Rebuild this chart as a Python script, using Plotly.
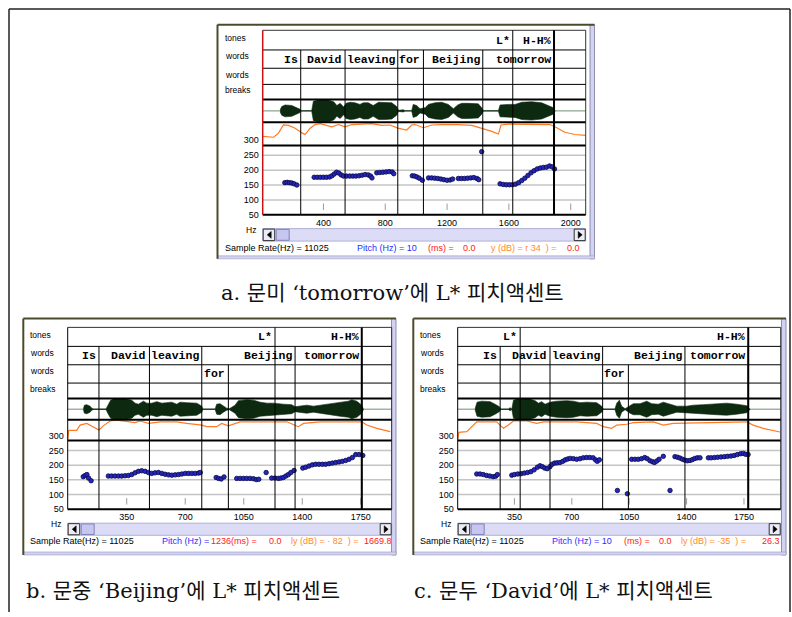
import plotly.graph_objects as go

FIG_W, FIG_H = 792, 617


def X(p):
    return p / FIG_W


def Y(p):
    return 1 - p / FIG_H


# ---------------- data: panel a ('tomorrow' L*) ----------------
A_PITCH_T = [150, 165, 180, 195, 210, 228,
             340, 360, 380, 400, 420, 440, 455, 470, 485, 500, 515, 530, 550, 570, 590, 610, 630, 650, 670, 690, 705, 714,
             745, 765, 785, 805, 825, 845, 855,
             975, 990, 1005, 1020, 1040,
             1080, 1100, 1120, 1140, 1160, 1180, 1200, 1220, 1236,
             1273, 1293, 1313, 1333, 1353, 1373, 1393, 1405,
             1424,
             1543, 1563, 1583, 1603, 1623, 1643, 1663, 1683, 1703, 1723, 1743, 1763, 1783, 1803, 1823, 1843, 1863, 1880, 1895]
A_PITCH_HZ = [158, 159, 158, 157, 154, 150,
              176, 176, 176, 176, 176, 177, 181, 187, 193, 190, 184, 180, 180, 180, 180, 180, 181, 183, 185, 184, 180, 174,
              191, 192, 193, 194, 195, 194, 188,
              181, 180, 177, 173, 166,
              174, 174, 173, 172, 170, 168, 166, 167, 170,
              172, 172, 172, 173, 174, 175, 172, 168,
              262,
              154, 152, 151, 151, 151, 153, 158, 165, 173, 182, 191, 198, 204, 207, 209, 210, 214, 211, 204]
A_WAVE_T = [120, 130, 152, 195, 217, 249, 255, 324, 335, 367, 432, 466, 487, 508, 531, 546,
            574, 604, 636, 658, 690, 722, 757, 799, 842, 874, 885, 917, 928, 971, 981, 1003, 1025, 1058, 1079, 1122,
            1165, 1208, 1241, 1269, 1295, 1338, 1402, 1424, 1435, 1532, 1543, 1597, 1640, 1683, 1747, 1812, 1855, 1887, 1898]
A_WAVE_AMP = [0.1, 0.4, 0.55, 0.5, 0.35, 0.15, 0.02, 0.02, 0.9, 1.0, 1.0, 0.85, 0.5, 0.7, 0.35, 0.7,
              0.8, 0.75, 0.6, 0.75, 0.75, 0.5, 0.8, 0.8, 0.75, 0.4, 0.05, 0.1, 0.02, 0.02, 0.6, 0.5, 0.2, 0.3, 0.6, 0.75,
              0.8, 0.6, 0.2, 0.55, 0.7, 0.7, 0.65, 0.3, 0.02, 0.02, 0.55, 0.6, 0.6, 0.8, 0.85, 0.75, 0.5, 0.3, 0.02]
A_INT_T = [8, 77, 109, 141, 174, 217, 264, 281, 314, 346, 378, 421, 454, 497, 540, 583, 712, 777, 831, 881,
           939, 971, 993, 1047, 1101, 1165, 1273, 1360, 1424, 1489, 1532, 1549, 1597, 1866, 1898, 1962, 2027, 2096]
A_INT_DB = [50, 48, 57, 75, 74, 68, 57, 54, 68, 76, 78, 74, 71, 76, 71, 76, 78, 74, 75, 68,
            64, 75, 76, 69, 75, 76, 76, 74, 68, 61, 55, 75, 77, 76, 71, 59, 54, 52]
A_TONE_T = [1625, 1892]
A_TONE_LAB = ["L*", "H-H%"]
A_WORD_T = [253, 540, 881, 1047, 1431, 1892]
A_WORD_LAB = ["Is", "David", "leaving", "for", "Beijing", "tomorrow"]
A_WORD2_T = []
A_WORD2_LAB = []
A_TIME_TICKS = [400, 800, 1200, 1600, 2000]

# ---------------- data: panel b ('Beijing' L*) ----------------
B_PITCH_T = [90, 102, 112, 122, 137,
             240, 260, 280, 300, 320, 340, 360, 380, 400, 420, 440, 460, 480, 500, 520, 540, 560, 580, 600, 620, 640,
             660, 680, 700, 720, 740, 760, 780, 790,
             885, 900, 915, 932,
             1008, 1028, 1048, 1068, 1088, 1108, 1125, 1140,
             1184,
             1217, 1237, 1257, 1272, 1287, 1302, 1317, 1332, 1351,
             1403, 1420, 1440, 1460, 1480, 1500, 1520, 1540, 1560, 1580, 1600, 1620, 1640, 1660, 1680, 1700, 1720, 1740, 1762]
B_PITCH_HZ = [161, 165, 168, 156, 147,
              163, 163, 163, 163, 163, 164, 165, 168, 174, 179, 181, 179, 175, 172, 174, 175, 172, 169, 167, 166, 167,
              168, 170, 172, 172, 172, 172, 173, 175,
              158, 155, 153, 160,
              155, 155, 155, 155, 155, 154, 151, 152,
              175,
              156, 156, 155, 156, 158, 163, 168, 175, 182,
              190, 193, 197, 201, 203, 203, 203, 203, 205, 207, 209, 211, 213, 216, 220, 226, 236, 236, 233]
B_WAVE_T = [91, 97, 111, 131, 141, 151, 226, 240, 254, 270, 350, 380, 400, 420, 450, 470, 500, 530, 560, 589,
            619, 649, 669, 709, 769, 799, 805, 879, 888, 908, 928, 948, 964, 998, 1018, 1068, 1108, 1148, 1188, 1227,
            1287, 1337, 1357, 1387, 1427, 1467, 1507, 1567, 1626, 1676, 1696, 1726, 1756, 1766]
B_WAVE_AMP = [0.05, 0.4, 0.45, 0.3, 0.1, 0.02, 0.02, 0.5, 0.9, 1.0, 1.0, 0.9, 0.6, 0.5, 0.8, 0.6, 0.6, 0.75, 0.6, 0.65,
              0.7, 0.5, 0.7, 0.65, 0.6, 0.3, 0.02, 0.02, 0.5, 0.55, 0.3, 0.1, 0.05, 0.4, 0.85, 0.95, 0.9, 0.7, 0.6, 0.6,
              0.5, 0.45, 0.25, 0.3, 0.4, 0.3, 0.4, 0.55, 0.7, 0.8, 0.95, 0.8, 0.4, 0.02]
B_INT_T = [-3, 3, 51, 71, 111, 151, 184, 210, 250, 290, 350, 400, 430, 480, 550, 649, 709, 799, 829, 888,
           918, 958, 1028, 1108, 1307, 1377, 1407, 1507, 1756, 1786, 1846, 1926]
B_INT_DB = [32, 55, 55, 68, 72, 64, 56, 66, 78, 80, 76, 74, 78, 72, 76, 76, 72, 68, 64, 64,
            72, 66, 76, 76, 76, 64, 72, 76, 76, 68, 60, 52]
B_TONE_T = [1237, 1756]
B_TONE_LAB = ["L*", "H-H%"]
B_WORD_T = [184, 486, 799, 1357, 1756]
B_WORD_LAB = ["Is", "David", "leaving", "Beijing", "tomorrow"]
B_WORD2_T = [958]
B_WORD2_LAB = ["for"]

# ---------------- data: panel c ('David' L*) ----------------
C_PITCH_T = [120, 140, 160, 180, 200, 220, 235, 246,
             334, 350, 370, 390, 410, 430, 450, 470, 490, 506, 520, 535, 550, 567, 580, 595, 610, 628, 645, 660, 675,
             690, 710, 730, 750, 770, 790, 810, 830, 845, 855, 868,
             978, 1039,
             1065, 1085, 1105, 1125, 1145, 1160, 1177, 1192, 1204, 1218, 1232,
             1258, 1299,
             1329, 1345, 1360, 1375, 1390, 1405, 1421, 1436, 1451, 1466, 1482,
             1533, 1550, 1570, 1590, 1610, 1630, 1650, 1670, 1690, 1710, 1730, 1746, 1760, 1775]
C_PITCH_HZ = [170, 170, 168, 165, 163, 161, 162, 168,
              166, 168, 170, 171, 173, 175, 178, 184, 193, 198, 195, 190, 188, 195, 203, 207, 208, 209, 213, 218, 221,
              223, 222, 220, 222, 225, 226, 226, 225, 218, 213, 218,
              114, 103,
              220, 220, 220, 222, 226, 222, 215, 212, 209, 214, 220,
              230, 114,
              229, 227, 224, 220, 217, 215, 216, 219, 223, 225, 225,
              225, 225, 226, 227, 228, 229, 230, 231, 233, 236, 239, 240, 237, 236]
C_WAVE_T = [110, 122, 151, 202, 232, 258, 266, 313, 323, 334, 344, 364, 445, 476, 496, 516, 537,
            567, 608, 669, 709, 750, 791, 852, 882, 892, 963, 974, 990, 1004, 1025, 1055, 1075, 1116, 1157, 1187,
            1228, 1258, 1299, 1340, 1400, 1441, 1502, 1583, 1644, 1705, 1766, 1782, 1786]
C_WAVE_AMP = [0.05, 0.7, 0.8, 0.75, 0.5, 0.25, 0.02, 0.02, 0.15, 0.02, 0.9, 1.0, 1.0, 0.85, 0.6, 0.75, 0.5,
              0.7, 0.8, 0.85, 0.8, 0.65, 0.7, 0.65, 0.3, 0.02, 0.02, 0.6, 0.9, 0.3, 0.05, 0.4, 0.55, 0.55, 0.8, 0.55,
              0.5, 0.7, 0.5, 0.3, 0.3, 0.4, 0.45, 0.55, 0.6, 0.5, 0.35, 0.1, 0.02]
C_INT_T = [4, 11, 59, 90, 120, 242, 283, 313, 344, 425, 486, 527, 730, 852, 892, 943, 974, 1035, 1075, 1197,
           1258, 1319, 1766, 1806, 1867, 1969]
C_INT_DB = [32, 50, 52, 64, 76, 76, 60, 68, 78, 78, 72, 76, 76, 72, 64, 60, 68, 70, 74, 76,
            68, 72, 76, 68, 60, 51]
C_TONE_T = [385, 1776]
C_TONE_LAB = ["L*", "H-H%"]
C_WORD_T = [263, 567, 888, 1390, 1776]
C_WORD_LAB = ["Is", "David", "leaving", "Beijing", "tomorrow"]
C_WORD2_T = [1045]
C_WORD2_LAB = ["for"]
BC_TIME_TICKS = [350, 700, 1050, 1400, 1750]

PITCH_TICKS = [50, 100, 150, 200, 250, 300]
PITCH_GRID = [100, 150, 200, 250]
TIER_NAMES = ["tones", "words", "words", "breaks"]

CAPTIONS = ["a. 문미 ‘tomorrow’에 L* 피치액센트",
            "b. 문중 ‘Beijing’에 L* 피치액센트",
            "c. 문두 ‘David’에 L* 피치액센트"]

BLUE, RED, ORANGE, BLACK = "#2b2bff", "#ff2020", "#ff8a2a", "#000000"
STATUS = [
    [("Sample Rate(Hz) = 11025", BLACK, 0), ("Pitch (Hz) = 10", BLUE, 131.7), ("(ms) =", RED, 202.4),
     ("0.0", RED, 237.7), ("y (dB) = r 34  ) =", ORANGE, 265.7), ("0.0", RED, 341.7)],
    [("Sample Rate(Hz) = 11025", BLACK, 0), ("Pitch (Hz) =", BLUE, 131.7), ("1236(ms) =", RED, 181),
     ("0.0", RED, 238.4), ("ly (dB) = · 82  ) =", ORANGE, 261), ("1669.8", RED, 334)],
    [("Sample Rate(Hz) = 11025", BLACK, 0), ("Pitch (Hz) = 10", BLUE, 131.7), ("(ms) =", RED, 203.4),
     ("0.0", RED, 238.4), ("ly (dB) = ·35  ) =", ORANGE, 261), ("26.3", RED, 341.7)],
]

# ---------------- panel geometry (pixels) ----------------
ROWS_A = (25.7, 45.7, 64.3, 80.7, 96.0, 119.3, 142.7, 213.3)
ROWS_BC = (327.7, 347.0, 365.7, 384.3, 400.0, 421.7, 442.7, 512.6)
panels = [
    dict(win=(217.5, 20.0, 594.5, 258.0), left=262.7, right=585.7, rows=ROWS_A, hz_px=0.303, xr=[7, 2097],
         ticks=A_TIME_TICKS, pitch=(A_PITCH_T, A_PITCH_HZ), wave=(A_WAVE_T, A_WAVE_AMP), inten=(A_INT_T, A_INT_DB),
         tones=(A_TONE_T, A_TONE_LAB), words=(A_WORD_T, A_WORD_LAB), words2=(A_WORD2_T, A_WORD2_LAB),
         label_x=223.3, label_y=(33.3, 52.3, 70.7, 86.0), scroll=(227.3, 240.0), status_y=246.7,
         red_edge=True, caption=(219, 293)),
    dict(win=(23.3, 318.7, 396.0, 559.0), left=67.7, right=391.7, rows=ROWS_BC, hz_px=0.299, xr=[-3, 1935],
         ticks=BC_TIME_TICKS, pitch=(B_PITCH_T, B_PITCH_HZ), wave=(B_WAVE_T, B_WAVE_AMP), inten=(B_INT_T, B_INT_DB),
         tones=(B_TONE_T, B_TONE_LAB), words=(B_WORD_T, B_WORD_LAB), words2=(B_WORD2_T, B_WORD2_LAB),
         label_x=28.3, label_y=(335.0, 354.0, 372.3, 390.3), scroll=(526.7, 539.0), status_y=545.0,
         red_edge=False, caption=(24, 596)),
    dict(win=(413.3, 318.7, 786.0, 559.0), left=457.7, right=780.7, rows=ROWS_BC, hz_px=0.299, xr=[4, 1974],
         ticks=BC_TIME_TICKS, pitch=(C_PITCH_T, C_PITCH_HZ), wave=(C_WAVE_T, C_WAVE_AMP), inten=(C_INT_T, C_INT_DB),
         tones=(C_TONE_T, C_TONE_LAB), words=(C_WORD_T, C_WORD_LAB), words2=(C_WORD2_T, C_WORD2_LAB),
         label_x=418.3, label_y=(335.0, 354.0, 372.3, 390.3), scroll=(526.7, 539.0), status_y=545.0,
         red_edge=False, caption=(412, 596)),
]

SMALL = dict(family="Liberation Sans, Arial, sans-serif", size=9, color="black")
TIER_FONT = dict(family="Liberation Mono, DejaVu Sans Mono, monospace", size=11.5, color="black")
CAP_FONT = dict(family="DejaVu Serif, Noto Sans CJK KR, serif", size=21, color="#111111")

fig = go.Figure()
shapes, annos, axes = [], [], {}


def pline(x0, y0, x1, y1, color="black", width=1.0, layer="above"):
    shapes.append(dict(type="line", xref="paper", yref="paper", x0=X(x0), y0=Y(y0), x1=X(x1), y1=Y(y1),
                       line=dict(color=color, width=width), layer=layer))


def prect(x0, y0, x1, y1, fill, lc=None, lw=0.0, layer="above"):
    shapes.append(dict(type="rect", xref="paper", yref="paper", x0=X(x0), x1=X(x1), y0=Y(y1), y1=Y(y0),
                       fillcolor=fill, line=dict(color=lc or fill, width=lw), layer=layer))


def ppath(pts, fill):
    d = "M " + " L ".join(f"{X(a):.5f},{Y(b):.5f}" for a, b in pts) + " Z"
    shapes.append(dict(type="path", xref="paper", yref="paper", path=d, fillcolor=fill,
                       line=dict(color=fill, width=0.5), layer="above"))


def text(x, y, s, font, xanchor="left", yanchor="middle", **kw):
    annos.append(dict(x=x, y=y, xref="paper", yref="paper", text=s, showarrow=False, font=font,
                      xanchor=xanchor, yanchor=yanchor, **kw))


# outer border of the figure block
pline(9, 4, 790, 4, "#222222", 1.5)
pline(9, 4, 9, 617, "#222222", 1.5)
pline(790, 4, 790, 617, "#222222", 1.5)

for i, p in enumerate(panels):
    n = i + 1
    xname = "x" if n == 1 else f"x{n}"
    xkey = "xaxis" if n == 1 else f"xaxis{n}"
    yp, yi, yw = 3 * i + 1, 3 * i + 2, 3 * i + 3
    yname = lambda k: "y" if k == 1 else f"y{k}"
    ykey = lambda k: "yaxis" if k == 1 else f"yaxis{k}"
    L, R = p["left"], p["right"]
    r = p["rows"]
    bottom = r[7]
    top300 = bottom - 250 * p["hz_px"]

    axes[xkey] = dict(domain=[X(L), X(R)], range=p["xr"], anchor=yname(yp), tickmode="array", tickvals=p["ticks"],
                      ticks="", showgrid=False, zeroline=False, showline=False, tickfont=SMALL, fixedrange=True,
                      ticklabelstandoff=1)
    axes[ykey(yp)] = dict(domain=[Y(bottom), Y(top300)], range=[50, 300], anchor=xname, tickmode="array",
                          tickvals=PITCH_TICKS, ticks="", showgrid=False, zeroline=False, showline=False,
                          tickfont=SMALL, fixedrange=True, ticklabelstandoff=3)
    axes[ykey(yi)] = dict(domain=[Y(r[6]), Y(r[5])], range=[30, 80.8], anchor=xname, visible=False, fixedrange=True)
    axes[ykey(yw)] = dict(domain=[Y(r[5]), Y(r[4])], range=[-1.06, 1.06], anchor=xname, visible=False,
                          fixedrange=True)

    # window chrome
    wl, wt, wr, wb = p["win"]
    prect(wr - 4.5, wt, wr, wb, "#d2d2f6", "#7a7a9a", 0.8)
    prect(wl, wb - 3, wr, wb, "#d2d2f6", "#9a9ab8", 0.6)
    pline(wl, wt, wr, wt, "#4c4a2c", 2)
    pline(wl, wt, wl, wb, "#4c4a2c", 2)

    # waveform
    wt_, wa = p["wave"]
    fig.add_trace(go.Scatter(x=list(wt_) + list(wt_)[::-1], y=list(wa) + [-a for a in wa][::-1], mode="lines",
                             fill="toself", fillcolor="#0d2a10", line=dict(color="#0d2a10", width=0.6),
                             xaxis=xname, yaxis=yname(yw), hoverinfo="skip", showlegend=False))
    # intensity
    it, idb = p["inten"]
    fig.add_trace(go.Scatter(x=it, y=idb, mode="lines", line=dict(color="#ff7a22", width=1.2),
                             xaxis=xname, yaxis=yname(yi), hoverinfo="skip", showlegend=False))
    # pitch
    pt, phz = p["pitch"]
    fig.add_trace(go.Scatter(x=pt, y=phz, mode="markers",
                             marker=dict(size=4.5, color="#2626c0", line=dict(color="#0a0a45", width=0.8)),
                             xaxis=xname, yaxis=yname(yp), showlegend=False))

    # pitch grid and short time ticks
    for g in PITCH_GRID:
        shapes.append(dict(type="line", xref=f"{xname} domain", yref=yname(yp), x0=0, x1=1, y0=g, y1=g,
                           line=dict(color="#c4c4c4", width=1.5), layer="below"))
    for tv in p["ticks"]:
        shapes.append(dict(type="line", xref=xname, yref=yname(yp), x0=tv, x1=tv, y0=66, y1=88,
                           line=dict(color="#9a9a9a", width=1), layer="below"))
    # waveform zero line
    shapes.append(dict(type="line", xref=f"{xname} domain", yref=yname(yw), x0=0, x1=1, y0=0, y1=0,
                       line=dict(color="#6f8f70", width=1), layer="below"))

    # tier frame
    pline(L, r[0], R, r[0], "#333333", 1)
    pline(R, r[0], R, bottom, "#333333", 1)
    for k in (1, 2, 3):
        pline(L, r[k], R, r[k], "black", 1)
    for k in (4, 5, 6, 7):
        pline(L, r[k], R, r[k], "black", 2)
    pline(L, r[0], L, bottom, "#cc1010" if p["red_edge"] else "black", 1.5 if p["red_edge"] else 1)

    # boundaries (time-referenced)
    tt, tl = p["tones"]
    for j, t in enumerate(tt):
        shapes.append(dict(type="line", xref=xname, yref="paper", x0=t, x1=t, y0=Y(r[0]), y1=Y(bottom),
                           line=dict(color="black", width=2 if j == len(tt) - 1 else 1), layer="above"))
        annos.append(dict(x=t, xref=xname, y=Y((r[0] + r[1]) / 2), yref="paper", text=f"<b>{tl[j]}</b>",
                          showarrow=False, font=TIER_FONT, xanchor="right", yanchor="middle", xshift=-1))
    wt1, wl1 = p["words"]
    for j, t in enumerate(wt1):
        shapes.append(dict(type="line", xref=xname, yref="paper", x0=t, x1=t, y0=Y(r[1]), y1=Y(bottom),
                           line=dict(color="black", width=1), layer="above"))
        annos.append(dict(x=t, xref=xname, y=Y((r[1] + r[2]) / 2), yref="paper", text=f"<b>{wl1[j]}</b>",
                          showarrow=False, font=TIER_FONT, xanchor="right", yanchor="middle", xshift=-1))
    wt2, wl2 = p["words2"]
    for j, t in enumerate(wt2):
        shapes.append(dict(type="line", xref=xname, yref="paper", x0=t, x1=t, y0=Y(r[2]), y1=Y(bottom),
                           line=dict(color="black", width=1), layer="above"))
        annos.append(dict(x=t, xref=xname, y=Y((r[2] + r[3]) / 2), yref="paper", text=f"<b>{wl2[j]}</b>",
                          showarrow=False, font=TIER_FONT, xanchor="right", yanchor="middle", xshift=-1))

    # tier names
    for name, ly in zip(TIER_NAMES, p["label_y"]):
        text(X(p["label_x"]), Y(ly), name, dict(SMALL, size=8.5))
    text(X(L - 12), Y(bottom + 15), "Hz", dict(SMALL, size=8.5), xanchor="center")

    # scroll bar
    s0, s1 = p["scroll"]
    prect(L, s0, R, s1, "#dcdcf7", "#a0a0cc", 0.8)
    prect(L + 0.5, s0 + 0.5, L + 12, s1 - 0.5, "#ececf6", "#303030", 1)
    ppath([(L + 8.5, (s0 + s1) / 2 - 3.5), (L + 8.5, (s0 + s1) / 2 + 3.5), (L + 4.5, (s0 + s1) / 2)], "black")
    prect(L + 13.5, s0 + 0.8, L + 26.5, s1 - 0.8, "#c6c6f0", "#7070a8", 0.8)
    prect(R - 11.5, s0 + 0.5, R - 0.5, s1 - 0.5, "#ececf6", "#303030", 1)
    ppath([(R - 7.5, (s0 + s1) / 2 - 3.5), (R - 7.5, (s0 + s1) / 2 + 3.5), (R - 3.5, (s0 + s1) / 2)], "black")

    # status line
    for s, col, dx in STATUS[i]:
        text(X(p["label_x"] + dx), Y(p["status_y"]), s, dict(SMALL, color=col))

    # caption
    cx, cy = p["caption"]
    text(X(cx), Y(cy), CAPTIONS[i], CAP_FONT)

fig.update_layout(
    width=FIG_W, height=FIG_H, margin=dict(l=0, r=0, t=0, b=0),
    paper_bgcolor="white", plot_bgcolor="rgba(0,0,0,0)",
    showlegend=False, shapes=shapes, annotations=annos, **axes,
)
fig.write_html("out.html")
